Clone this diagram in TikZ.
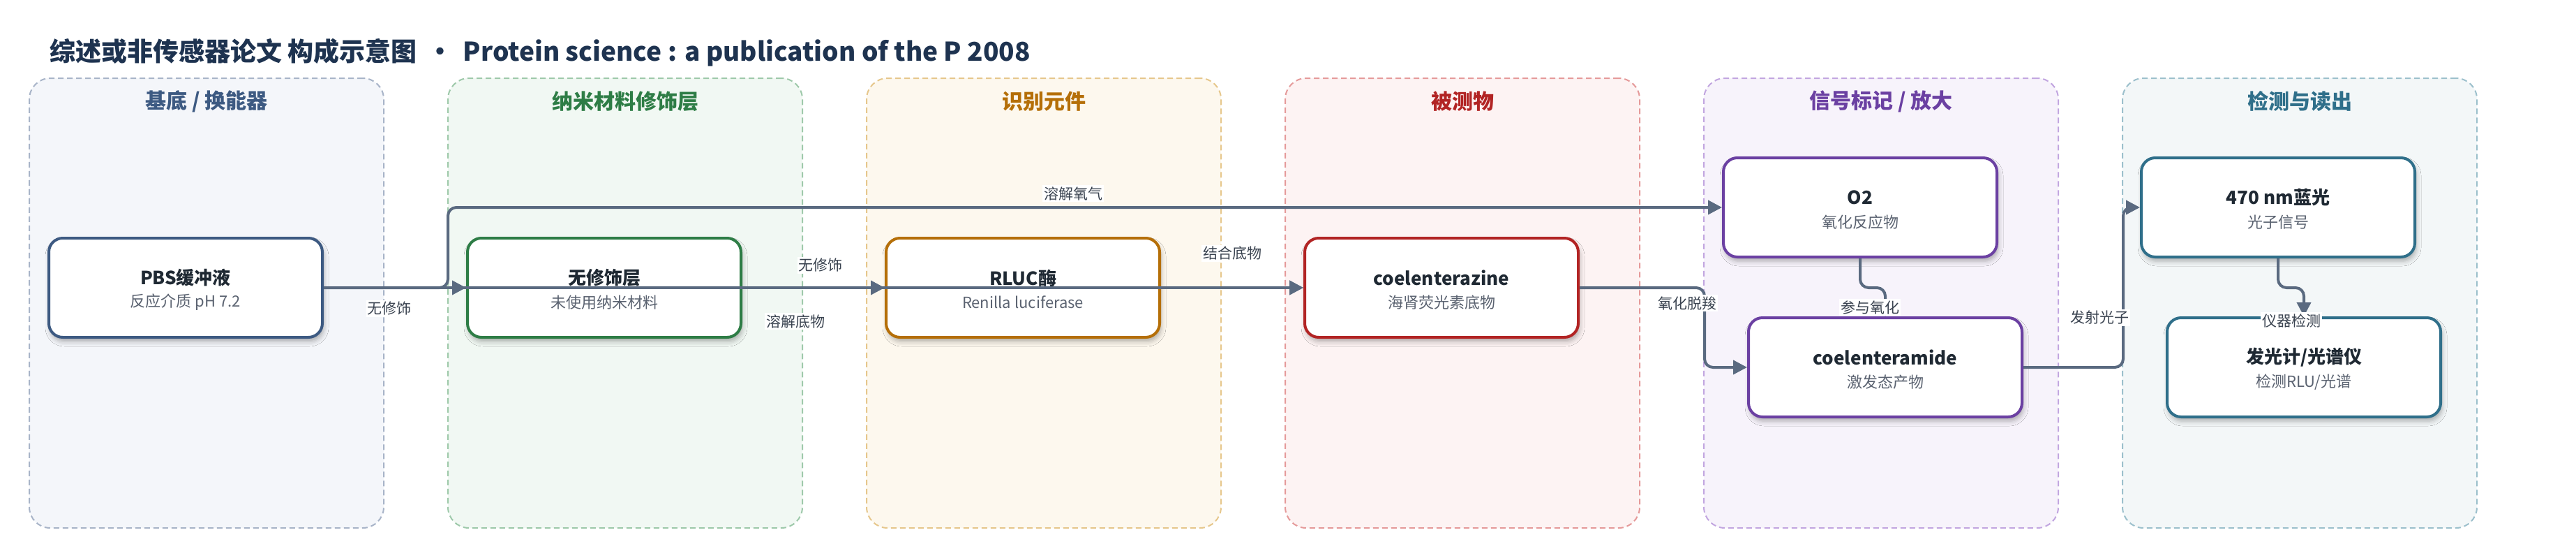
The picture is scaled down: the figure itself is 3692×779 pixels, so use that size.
\documentclass[tikz,border=0pt]{standalone}
\usepackage{fontspec}
\setmainfont{Noto Sans CJK SC}
\usetikzlibrary{arrows.meta,shadows.blur}
\definecolor{edgec}{HTML}{5A6A80}
\definecolor{titlec}{HTML}{1E3350}
\definecolor{ntext}{HTML}{1F2933}
\definecolor{stext}{HTML}{5A6270}
\definecolor{ltext}{HTML}{3A4350}
\definecolor{ca}{HTML}{3D5A82}\definecolor{da}{HTML}{A8B4C8}\definecolor{fa}{HTML}{F4F6FA}
\definecolor{cb}{HTML}{2E7D46}\definecolor{db}{HTML}{9EC9AA}\definecolor{fb}{HTML}{F1F8F3}
\definecolor{cc}{HTML}{B56F08}\definecolor{dc}{HTML}{E6C78C}\definecolor{fc}{HTML}{FDF8EE}
\definecolor{cd}{HTML}{B22424}\definecolor{dd}{HTML}{E59A9A}\definecolor{fd}{HTML}{FDF3F3}
\definecolor{ce}{HTML}{6B40A2}\definecolor{de}{HTML}{C2A6E0}\definecolor{fe}{HTML}{F7F3FB}
\definecolor{cf}{HTML}{2F6F8A}\definecolor{df}{HTML}{9CC0CC}\definecolor{ff}{HTML}{F3F7F8}
\begin{document}
\begin{tikzpicture}[x=1pt,y=-1pt,
  grp/.style 2 args={draw=#1, fill=#2, line width=2pt, dash pattern=on 8pt off 5pt,
    rounded corners=30pt, minimum width=508pt, minimum height=644pt, inner sep=0pt},
  gtitle/.style={text=#1, font=\bfseries\fontsize{30}{36}\selectfont, inner sep=0pt},
  nbox/.style={draw=#1, fill=white, line width=4pt, rounded corners=20pt,
    minimum width=392pt, minimum height=142pt, inner sep=0pt,
    blur shadow={shadow xshift=2pt, shadow yshift=-6pt, shadow blur radius=7pt, shadow opacity=30}},
  ntitle/.style={text=ntext, font=\bfseries\fontsize{26}{30}\selectfont, inner sep=0pt},
  nsub/.style={text=stext, font=\fontsize{22}{26}\selectfont, inner sep=0pt},
  conn/.style={draw=edgec, line width=4pt, rounded corners=12pt, -{Triangle[length=20pt,width=20pt]}},
  elabel/.style={fill=white, text=ltext, font=\fontsize{21}{25}\selectfont, inner sep=2pt}
]
\useasboundingbox (0,0) rectangle (3692,779);
\fill[white] (0,0) rectangle (3692,779);

% title
\node[anchor=west, text=titlec, font=\bfseries\fontsize{37}{44}\selectfont, inner sep=0pt] (title) at (71,75)
  {综述或非传感器论文 构成示意图 \,•\, Protein science : a publication of the P 2008};

% groups
\node[grp={da}{fa}] (g1) at (296,434) {};
\node[grp={db}{fb}] (g2) at (896,434) {};
\node[grp={dc}{fc}] (g3) at (1496,434) {};
\node[grp={dd}{fd}] (g4) at (2096,434) {};
\node[grp={de}{fe}] (g5) at (2696,434) {};
\node[grp={df}{ff}] (g6) at (3296,434) {};
\node[gtitle=ca] (g1t) at (296,145) {基底 / 换能器};
\node[gtitle=cb] (g2t) at (896,145) {纳米材料修饰层};
\node[gtitle=cc] (g3t) at (1496,145) {识别元件};
\node[gtitle=cd] (g4t) at (2096,145) {被测物};
\node[gtitle=ce] (g5t) at (2696,145) {信号标记 / 放大};
\node[gtitle=cf] (g6t) at (3296,145) {检测与读出};

% nodes
\node[nbox=ca] (n1) at (266,412) {};
\node[nbox=cb] (n2) at (866,412) {};
\node[nbox=cc] (n3) at (1466,412) {};
\node[nbox=cd] (n4) at (2066,412) {};
\node[nbox=ce] (n5) at (2666,297) {};
\node[nbox=ce] (n6) at (2702,526) {};
\node[nbox=cf] (n7) at (3265,297) {};
\node[nbox=cf] (n8) at (3302,526) {};

\node[ntitle] (n1a) at ([yshift=14pt]n1.center) {PBS缓冲液};
\node[nsub]   (n1b) at ([yshift=-21pt]n1.center) {反应介质 pH 7.2};
\node[ntitle] (n2a) at ([yshift=14pt]n2.center) {无修饰层};
\node[nsub]   (n2b) at ([yshift=-21pt]n2.center) {未使用纳米材料};
\node[ntitle] (n3a) at ([yshift=14pt]n3.center) {RLUC酶};
\node[nsub]   (n3b) at ([yshift=-21pt]n3.center) {Renilla luciferase};
\node[ntitle] (n4a) at ([yshift=14pt]n4.center) {coelenterazine};
\node[nsub]   (n4b) at ([yshift=-21pt]n4.center) {海肾荧光素底物};
\node[ntitle] (n5a) at ([yshift=14pt]n5.center) {O2};
\node[nsub]   (n5b) at ([yshift=-21pt]n5.center) {氧化反应物};
\node[ntitle] (n6a) at ([yshift=14pt]n6.center) {coelenteramide};
\node[nsub]   (n6b) at ([yshift=-21pt]n6.center) {激发态产物};
\node[ntitle] (n7a) at ([yshift=14pt]n7.center) {470 nm蓝光};
\node[nsub]   (n7b) at ([yshift=-21pt]n7.center) {光子信号};
\node[ntitle] (n8a) at ([yshift=14pt]n8.center) {发光计/光谱仪};
\node[nsub]   (n8b) at ([yshift=-21pt]n8.center) {检测RLU/光谱};

% connectors
\draw[conn] (n1.east) -- (n2.west);
\draw[conn] (n1.east) -- (642,412) -- (642,297) -- (n5.west);
\draw[conn] (n1.east) -- (n4.west);
\draw[conn] (n2.east) -- (n3.west);
\draw[conn] (n3.east) -- (n4.west);
\draw[conn] (n4.east) -- (2443,412) -- (2443,526) -- (n6.west);
\draw[conn] (n5.south) -- (2666,412) -- (2702,412) -- (n6.north);
\draw[conn] (n7.south) -- (3265,412) -- (3302,412) -- (n8.north);
\draw[conn] (n6.east) -- (3043,526) -- (3043,297) -- (n7.west);

% connector labels
\node[elabel] (l1) at (558,442) {无修饰};
\node[elabel] (l2) at (1538,277) {溶解氧气};
\node[elabel] (l3) at (1140,460) {溶解底物};
\node[elabel] (l4) at (1176,380) {无修饰};
\node[elabel] (l5) at (1766,363) {结合底物};
\node[elabel] (l6) at (2418,434) {氧化脱羧};
\node[elabel] (l7) at (2680,440) {参与氧化};
\node[elabel] (l8) at (3284,459) {仪器检测};
\node[elabel] (l9) at (3009,455) {发射光子};
\end{tikzpicture}
\end{document}
